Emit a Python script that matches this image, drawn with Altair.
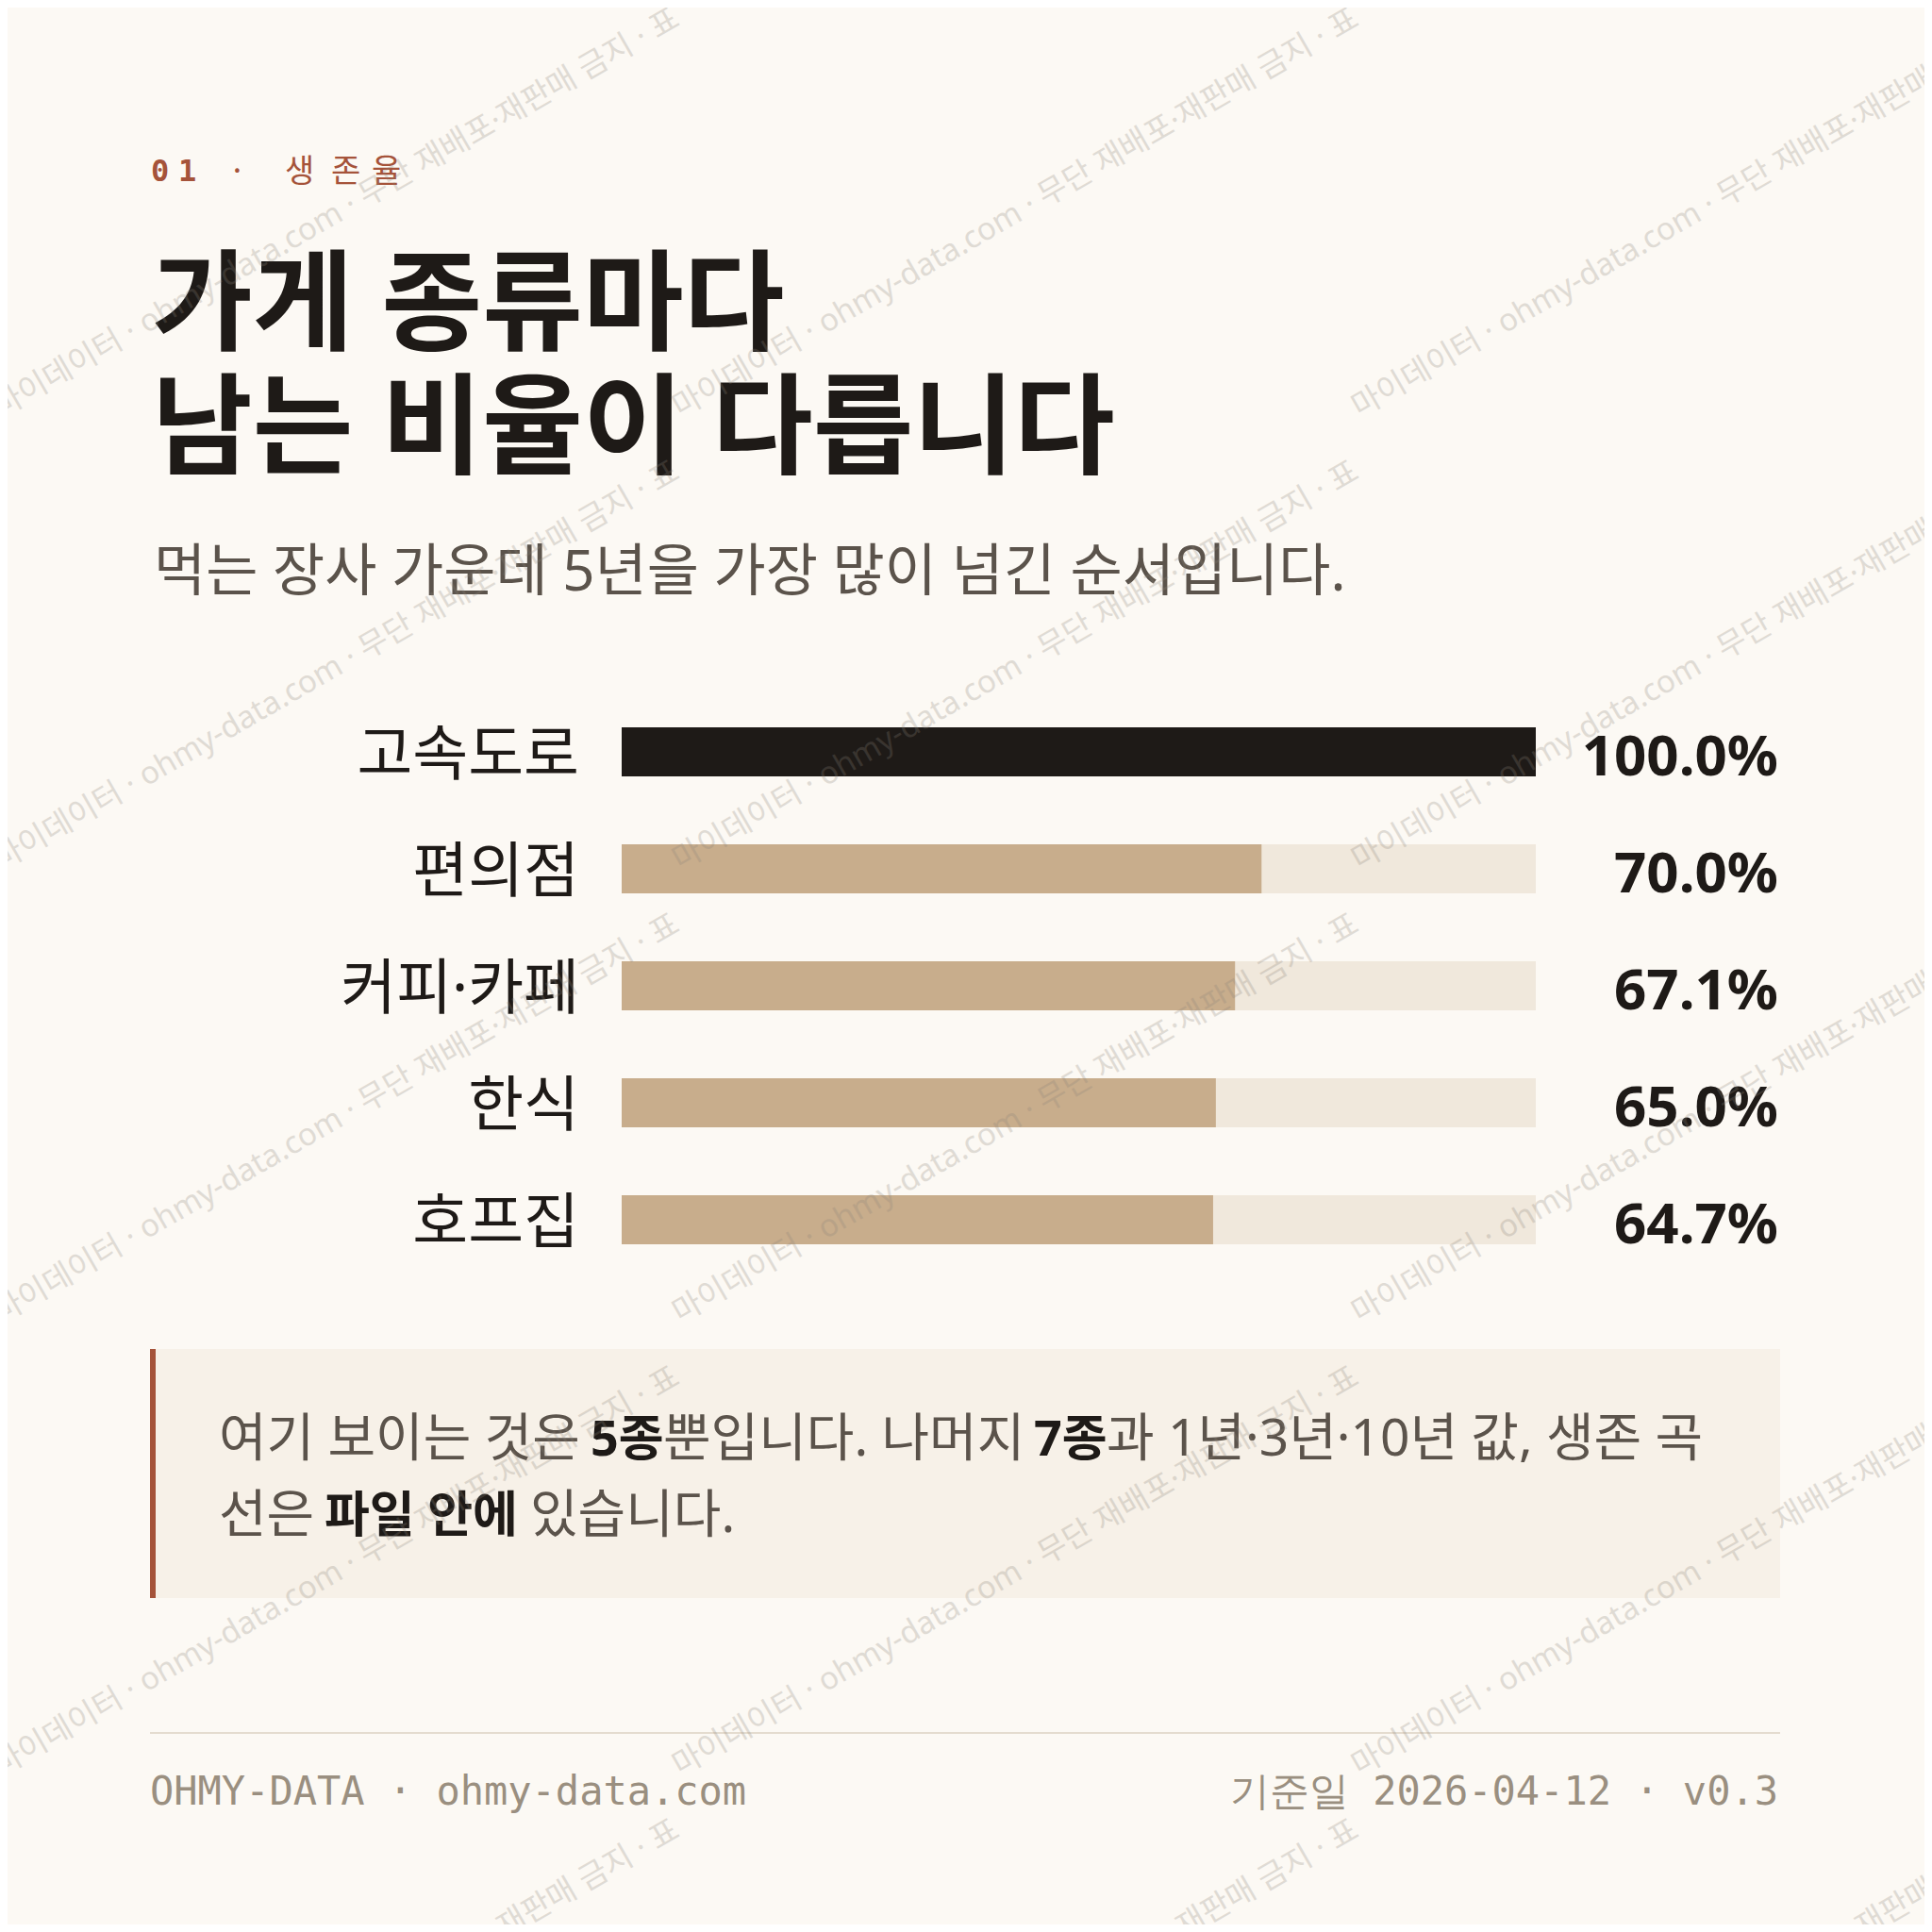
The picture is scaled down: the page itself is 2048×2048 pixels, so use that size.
import altair as alt
import pandas as pd

# ---------------- data ----------------
categories = ["고속도로", "편의점", "커피·카페", "한식", "호프집"]
survival_5y = [100.0, 70.0, 67.1, 65.0, 64.7]
value_labels = ["100.0%", "70.0%", "67.1%", "65.0%", "64.7%"]
is_top = [True, False, False, False, False]
track_full = [100.0, 100.0, 100.0, 100.0, 100.0]

eyebrow_chars = ["0", "1", "·", "생", "존", "율"]
title_lines = ["가게 종류마다", "남는 비율이 다릅니다"]
subtitle = "먹는 장사 가운데 5년을 가장 많이 넘긴 순서입니다."
note_line1 = ["여기 보이는 것은", "5종", "뿐입니다. 나머지", "7종", "과 1년·3년·10년 값, 생존 곡"]
note_line1_bold = [False, True, False, True, False]
note_line2 = ["선은", "파일 안에", "있습니다."]
note_line2_bold = [False, True, False]
footer_left = "OHMY-DATA · ohmy-data.com"
footer_right = "기준일 2026-04-12 · v0.3"
watermark_text = "마이데이터 · ohmy-data.com · 무단 재배포·재판매 금지 · 표"

# ---------------- style ----------------
KR = "Noto Sans, Noto Sans CJK KR"
LAT = "Noto Sans"
MONO = "DejaVu Sans Mono"
INK = "#1e1a17"
GREY = "#5b534b"
RUST = "#a5533a"
MUTED = "#9a8f80"
BG = "#fcf9f4"

W = H = 2032

df = pd.DataFrame({
    "category": categories,
    "value": survival_5y,
    "label": value_labels,
    "top": is_top,
    "track": track_full,
})

xs = alt.Scale(domain=[0, 100], range=[651, 1620])
ys = alt.Scale(domain=categories, range=[727, 1347], paddingInner=0.58, paddingOuter=0.29)

base = alt.Chart(df)
Y = alt.Y("category:N", scale=ys, axis=None)

track = base.mark_bar(color="#f0e8dc").encode(
    x=alt.X("track:Q", scale=xs, axis=None), y=Y)
fill = base.mark_bar().encode(
    x=alt.X("value:Q", scale=xs, axis=None), y=Y,
    color=alt.condition("datum.top", alt.value(INK), alt.value("#c8ad8c")))
cat_labels = base.mark_text(align="right", baseline="middle", font=KR, fontSize=64,
                            color=INK, dy=5).encode(x=alt.value(606), y=Y, text="category:N")
val_labels = base.mark_text(align="right", baseline="middle", font=LAT, fontSize=60,
                            fontWeight="bold", color=INK, dy=7).encode(
    x=alt.value(1877), y=Y, text="label:N")

one = alt.Chart(pd.DataFrame({"a": [0]}))

# eyebrow
eb_x = [152, 181, 234, 294, 343, 386]
eb_df = pd.DataFrame({"c": eyebrow_chars, "px": eb_x,
                      "w": ["bold", "bold", "normal", "normal", "normal", "normal"]})
eyebrow_num = alt.Chart(eb_df[eb_df.w == "bold"]).mark_text(
    align="left", baseline="alphabetic", font=MONO, fontSize=32, fontWeight="bold",
    color=RUST).encode(x=alt.X("px:Q", scale=None), y=alt.value(184), text="c:N")
eyebrow_kr = alt.Chart(eb_df[eb_df.w == "normal"]).mark_text(
    align="left", baseline="alphabetic", font="Noto Sans CJK KR", fontSize=34,
    color=RUST).encode(x=alt.X("px:Q", scale=None), y=alt.value(185), text="c:N")

title = one.mark_text(align="left", baseline="alphabetic", font=KR, fontSize=116,
                      fontWeight="bold", color=INK, lineHeight=131).encode(
    x=alt.value(153), y=alt.value(354), text=alt.value(title_lines))
sub = one.mark_text(align="left", baseline="alphabetic", font=KR, fontSize=60,
                    color=GREY).encode(x=alt.value(155), y=alt.value(618),
                                       text=alt.value(subtitle))

# callout box
box = one.mark_rect(color="#f7f1e8").encode(
    x=alt.value(151), x2=alt.value(1879), y=alt.value(1422), y2=alt.value(1686))
box_edge = one.mark_rect(color=RUST).encode(
    x=alt.value(151), x2=alt.value(157), y=alt.value(1422), y2=alt.value(1686))

note_layers = []
l1_x = [224, 618, 695, 1088, 1165]
l2_x = [224, 336, 554]
for segs, bolds, xs_, yb in ((note_line1, note_line1_bold, l1_x, 1535),
                             (note_line2, note_line2_bold, l2_x, 1616)):
    for s, b, px in zip(segs, bolds, xs_):
        note_layers.append(one.mark_text(
            align="left", baseline="alphabetic", font=KR, fontSize=52 if b else 55,
            fontWeight="bold" if b else "normal", color=INK if b else GREY).encode(
            x=alt.value(px), y=alt.value(yb), text=alt.value(s)))

# footer
rule = one.mark_rule(color="#e4dccf", strokeWidth=2).encode(
    x=alt.value(151), x2=alt.value(1879), y=alt.value(1829))
foot_l = one.mark_text(align="left", baseline="alphabetic", font=MONO, fontSize=42,
                       color=MUTED).encode(x=alt.value(151), y=alt.value(1905),
                                           text=alt.value(footer_left))
foot_r = one.mark_text(align="right", baseline="alphabetic", font=MONO, fontSize=42,
                       color=MUTED).encode(x=alt.value(1877), y=alt.value(1905),
                                           text=alt.value(footer_right))

# watermark tiles
rows = []
for tx in (0, 720, 1440):
    for ty in (0, 480, 960, 1440, 1920):
        rows.append({"px": tx - 7, "py": ty + 435, "t": watermark_text})
wm = alt.Chart(pd.DataFrame(rows)).mark_text(
    align="left", baseline="alphabetic", angle=330, font=KR, fontSize=33,
    color="#8c8379", opacity=0.25).encode(
    x=alt.X("px:Q", scale=None), y=alt.Y("py:Q", scale=None), text="t:N")

chart = alt.layer(
    box, box_edge, track, fill, cat_labels, val_labels,
    eyebrow_num, eyebrow_kr, title, sub, *note_layers, rule, foot_l, foot_r, wm
).resolve_scale(x="independent", y="independent").properties(
    width=W, height=H, padding=0, background=BG,
    autosize=alt.AutoSizeParams(type="none")
).configure_view(stroke=None)

chart.save("out.html", embed_options={"renderer": "svg", "actions": False})
